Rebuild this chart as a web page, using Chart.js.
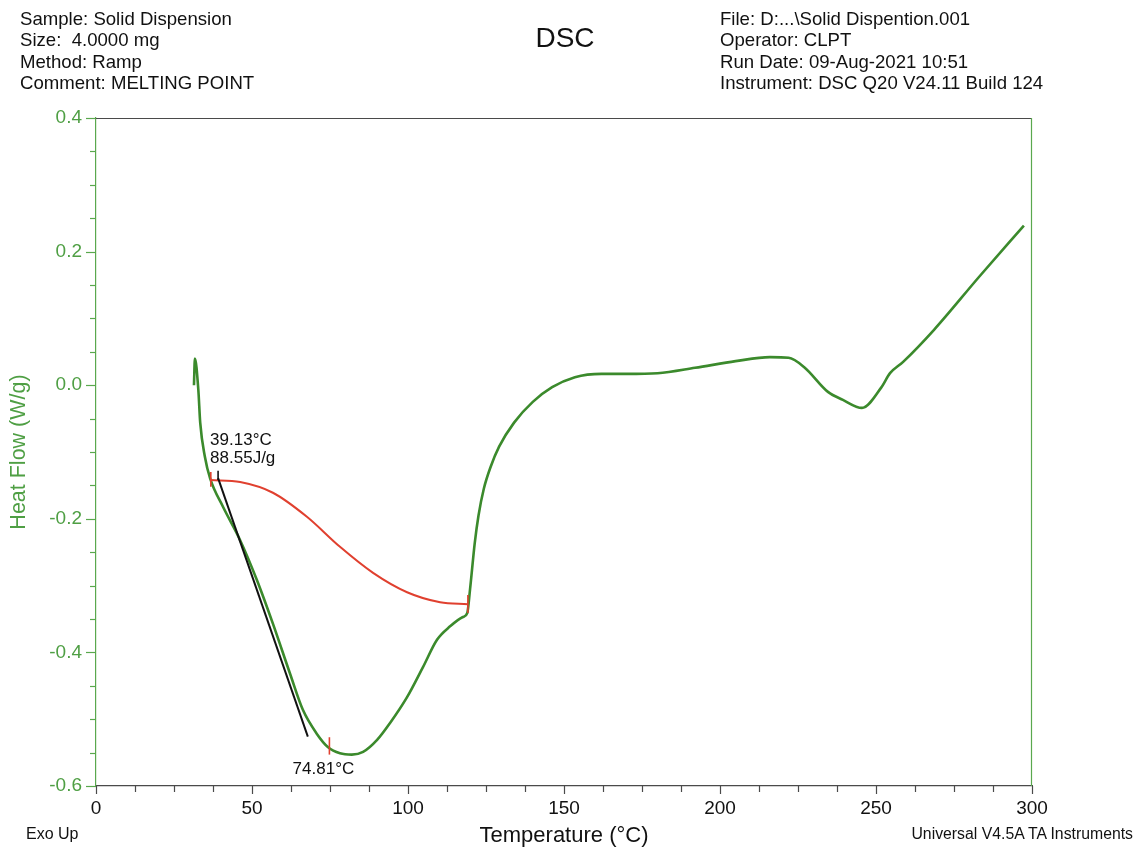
<!DOCTYPE html>
<html>
<head>
<meta charset="utf-8">
<title>DSC</title>
<script src="https://cdn.jsdelivr.net/npm/chart.js@4.4.0/dist/chart.umd.min.js"></script>
<style>
  html, body { margin: 0; padding: 0; background: #ffffff; }
  #wrap { position: relative; width: 1135px; height: 849px; font-family: "Liberation Sans", Arial, sans-serif; color: #111; }
  #chart { position: absolute; left: 0; top: 0; }
  .info { position: absolute; top: 8px; font-size: 18.6px; line-height: 21.3px; white-space: pre; }
  #title { position: absolute; left: 0; width: 1130px; top: 22px; text-align: center; font-size: 28px; line-height: 32px; }
  .foot { position: absolute; top: 825px; font-size: 15.8px; line-height: 18px; white-space: pre; }
</style>
</head>
<body>
<div id="wrap">
  <canvas id="chart" width="1135" height="849"></canvas>
  <div class="info" style="left:20px;">Sample: Solid Dispension
Size:  4.0000 mg
Method: Ramp
Comment: MELTING POINT</div>
  <div id="title">DSC</div>
  <div class="info" style="left:720px;">File: D:...\Solid Dispention.001
Operator: CLPT
Run Date: 09-Aug-2021 10:51
Instrument: DSC Q20 V24.11 Build 124</div>
  <div class="foot" style="left:26px;font-size:16px;">Exo Up</div>
  <div class="foot" style="right:2px;">Universal V4.5A TA Instruments</div>
</div>
<script>
// Heat flow trace (temperature in °C, heat flow in W/g)
const temperature = [31.4, 31.7, 32.8, 33.4, 34.9, 36.6, 40.7, 46.2, 51.6, 56.7, 62.2, 66.3, 70.8, 74.4, 78.2, 82.0,
  85.6, 90.1, 94.2, 99.7, 104.8, 109.3, 113.5, 117.6, 119.0, 119.9, 121.4, 122.6, 124.3, 126.5, 129.2, 134.0, 140.0,
  146.2, 153.5, 162.0, 170.0, 180.0, 192.0, 205.0, 216.0, 222.0, 227.0, 234.6, 239.4, 245.5, 251.6, 254.5,
  258.7, 268.6, 283.0, 297.4];
const heatFlow = [0.000, 0.040, -0.007, -0.056, -0.107, -0.140, -0.182, -0.232, -0.292, -0.357, -0.432, -0.486, -0.522, -0.542, -0.551, -0.553,
  -0.549, -0.531, -0.506, -0.467, -0.422, -0.381, -0.361, -0.347, -0.341, -0.305, -0.236, -0.195, -0.155, -0.122, -0.092, -0.056, -0.025,
  -0.003, 0.012, 0.017, 0.017, 0.018, 0.026, 0.036, 0.042, 0.041, 0.027, -0.010, -0.022, -0.034, -0.004, 0.018,
  0.035, 0.083, 0.162, 0.239];

// Integration baseline under the melting endotherm
const baselineT = [36.8, 46.2, 56.7, 67.6, 78.2, 88.8, 99.7, 110.3, 119.2];
const baselineHF = [-0.142, -0.145, -0.161, -0.197, -0.242, -0.281, -0.310, -0.325, -0.328];

// Onset tangent line
const tangentT = [39.13, 67.9];
const tangentHF = [-0.139, -0.526];

// Analysis results
const onsetTemp = 39.13;
const enthalpy = 88.55;
const peakTemp = 74.81;

// Small vertical marks at the integration limits, onset and peak
const limitMarks = [
  { t: 36.8, lo: -0.152, hi: -0.130, color: '#e0402f' },
  { t: 119.2, lo: -0.341, hi: -0.314, color: '#e0402f' },
  { t: peakTemp, lo: -0.553, hi: -0.527, color: '#e0402f' },
  { t: onsetTemp, lo: -0.142, hi: -0.128, color: '#111111' }
];

// Axis ranges and tick spacing
const xRange = [0, 300];
const yRange = [-0.6, 0.4];
const xMinorStep = 12.5;
const xMajorStep = 50;
const yMinorStep = 0.05;
const yMajorStep = 0.2;

const traceGreen = '#3b8a2c';
const axisGreen = '#5aa84e';
const labelGreen = '#4f9f44';
const frameGrey = '#4a4a4a';
const fontFamily = '"Liberation Sans", Arial, sans-serif';

const pts = (xs, ys) => xs.map((v, i) => ({ x: v, y: ys[i] }));

const isMajor = (v, step) => Math.abs(v / step - Math.round(v / step)) < 1e-6;

const datasets = [
  { data: pts(temperature, heatFlow), borderColor: traceGreen, borderWidth: 2.6, pointRadius: 0, cubicInterpolationMode: 'monotone', order: 3 },
  { data: pts(baselineT, baselineHF), borderColor: '#e0402f', borderWidth: 2, pointRadius: 0, cubicInterpolationMode: 'monotone', order: 2 },
  { data: pts(tangentT, tangentHF), borderColor: '#111111', borderWidth: 2, pointRadius: 0, order: 1 }
];
limitMarks.forEach(m => {
  datasets.push({ data: [{ x: m.t, y: m.lo }, { x: m.t, y: m.hi }], borderColor: m.color, borderWidth: 1.6, pointRadius: 0, order: 0 });
});

// Tick marks (major/minor), top/right frame lines and result labels
const frameAndTicks = {
  id: 'frameAndTicks',
  afterDraw(chart) {
    const { ctx, chartArea: a, scales: { x, y } } = chart;
    ctx.save();
    ctx.lineWidth = 1.2;
    ctx.strokeStyle = frameGrey;
    ctx.beginPath(); ctx.moveTo(a.left, a.top + 0.5); ctx.lineTo(a.right, a.top + 0.5); ctx.stroke();
    ctx.strokeStyle = axisGreen;
    ctx.beginPath(); ctx.moveTo(a.right - 0.5, a.top); ctx.lineTo(a.right - 0.5, a.bottom); ctx.stroke();

    ctx.strokeStyle = axisGreen;
    y.ticks.forEach(t => {
      const py = Math.round(y.getPixelForValue(t.value)) + 0.5;
      const len = isMajor(t.value, yMajorStep) ? 10 : 6;
      ctx.beginPath(); ctx.moveTo(a.left - len, py); ctx.lineTo(a.left, py); ctx.stroke();
    });
    ctx.strokeStyle = frameGrey;
    x.ticks.forEach(t => {
      const px = Math.round(x.getPixelForValue(t.value)) + 0.5;
      const len = isMajor(t.value, xMajorStep) ? 8 : 6;
      ctx.beginPath(); ctx.moveTo(px, a.bottom); ctx.lineTo(px, a.bottom + len); ctx.stroke();
    });
    ctx.restore();
  },
  afterDatasetsDraw(chart) {
    const { ctx, scales: { x, y } } = chart;
    ctx.save();
    ctx.fillStyle = '#111';
    ctx.font = '17px ' + fontFamily;
    ctx.textBaseline = 'alphabetic';
    ctx.textAlign = 'left';
    const ox = x.getPixelForValue(onsetTemp) - 8;
    const oy = y.getPixelForValue(tangentHF[0]);
    ctx.fillText(onsetTemp.toFixed(2) + '°C', ox, oy - 33);
    ctx.fillText(enthalpy.toFixed(2) + 'J/g', ox, oy - 15);
    ctx.textAlign = 'center';
    const minHF = Math.min(...heatFlow);
    ctx.fillText(peakTemp.toFixed(2) + '°C', x.getPixelForValue(peakTemp) - 6, y.getPixelForValue(minHF) + 19);
    ctx.restore();
  }
};

new Chart(document.getElementById('chart'), {
  type: 'line',
  data: { datasets },
  plugins: [frameAndTicks],
  options: {
    responsive: false,
    animation: false,
    events: [],
    layout: { padding: { left: 0, right: 103, top: 118, bottom: 0 } },
    plugins: { legend: { display: false }, tooltip: { enabled: false } },
    scales: {
      x: {
        type: 'linear',
        min: xRange[0], max: xRange[1],
        afterFit(scale) { scale.height = 63; },
        grid: { display: false, drawTicks: false },
        border: { display: true, color: frameGrey, width: 1.2 },
        ticks: {
          stepSize: xMinorStep, autoSkip: false, maxRotation: 0, padding: 11,
          color: '#111', font: { family: fontFamily, size: 19 },
          callback: v => isMajor(v, xMajorStep) ? String(v) : ''
        },
        title: {
          display: true, text: 'Temperature (°C)', color: '#111',
          font: { family: fontFamily, size: 22 },
          padding: { top: 0, bottom: 0 }
        }
      },
      y: {
        type: 'linear',
        min: yRange[0], max: yRange[1],
        afterFit(scale) { scale.width = 96; },
        grid: { display: false, drawTicks: false },
        border: { display: true, color: axisGreen, width: 1.2 },
        ticks: {
          stepSize: yMinorStep, autoSkip: false, padding: 14,
          color: labelGreen, font: { family: fontFamily, size: 19 },
          callback: v => isMajor(v, yMajorStep) ? v.toFixed(1) : ''
        },
        title: {
          display: true, text: 'Heat Flow (W/g)', color: labelGreen,
          font: { family: fontFamily, size: 21.5 },
          padding: { top: 6, bottom: 0 }
        }
      }
    }
  }
});
</script>
</body>
</html>
